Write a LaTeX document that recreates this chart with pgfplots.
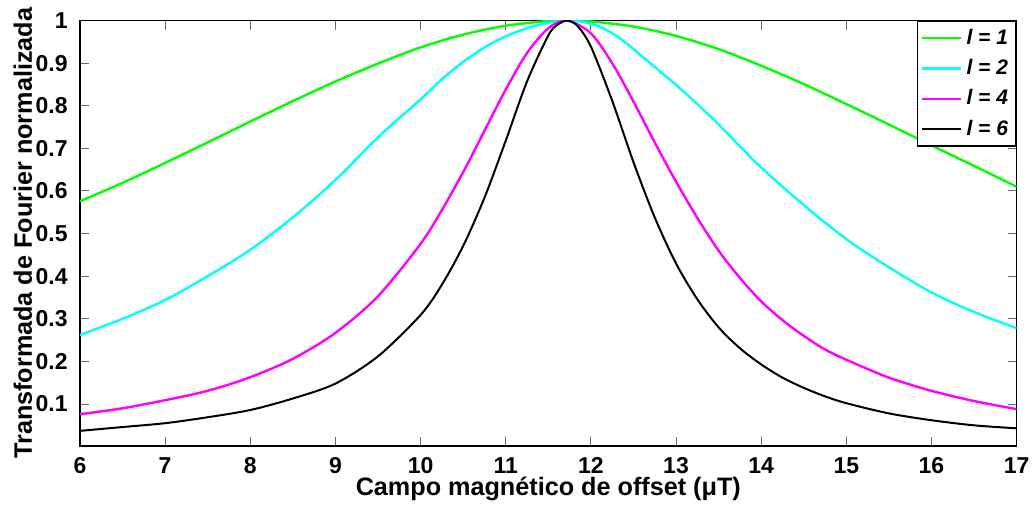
\documentclass[border=0pt]{standalone}
\usepackage{fontspec}
\setmainfont{Liberation Sans}
\usepackage{pgfplots}
\pgfplotsset{compat=1.18}
\begin{document}
\begin{tikzpicture}
\begin{axis}[
  at={(0,0)}, anchor=south west,
  scale only axis, width=468.3pt, height=212.7pt,
  xmin=6, xmax=17, ymin=0.0015, ymax=1,
  xtick={6,7,8,9,10,11,12,13,14,15,16,17},
  ytick={0.1,0.2,0.3,0.4,0.5,0.6,0.7,0.8,0.9,1},
  yticklabels={0.1,0.2,0.3,0.4,0.5,0.6,0.7,0.8,0.9,1},
  tick align=inside, major tick length=4.5pt,
  tick style={color=black!60, line width=0.5pt},
  axis line style={line width=0.7pt},
  /pgf/number format/assume math mode=true,
  ticklabel style={font=\fontsize{11.5}{13}\selectfont\bfseries},
  xticklabel style={anchor=north, inner sep=0pt},
  xticklabel shift=5.6pt,
  yticklabel style={anchor=east, inner sep=0pt, xshift=-6pt},
  xlabel={Campo magnético de offset (μT)},
  ylabel={Transformada de Fourier normalizada},
  label style={font=\fontsize{12.6}{14}\selectfont\bfseries},
  xlabel style={at={(axis description cs:0.5,-0.1175)}, anchor=base, inner sep=0pt},
  ylabel style={at={(axis description cs:-0.0609,0.5)}, anchor=center, inner sep=0pt},
  legend style={at={(1,1)}, anchor=north east, draw=black, line width=0.6pt, fill=white,
    font=\fontsize{10.5}{12}\selectfont\bfseries\itshape, row sep=2pt, inner sep=2pt},
  legend cell align=left,
  legend image code/.code={\draw[#1] (0pt,0pt) -- (19.5pt,0pt);},
]
\addplot[color={rgb,1:red,0;green,1;blue,0}, line width=1.2pt, smooth] coordinates {
(6.0,0.576) (6.5,0.619) (7.0,0.666) (7.5,0.714) (8.0,0.763) (8.5,0.811) (9.0,0.857)
(9.5,0.899) (10.0,0.937) (10.5,0.967) (11.0,0.988) (11.5,0.999) (11.72,1.0)
(12.0,0.998) (12.5,0.986) (13.0,0.964) (13.5,0.933) (14.0,0.894) (14.5,0.851)
(15.0,0.804) (15.5,0.756) (16.0,0.707) (16.5,0.659) (17.0,0.610)};
\addlegendentry{l = 1}
\addplot[color={rgb,1:red,0;green,1;blue,1}, line width=1.2pt, smooth] coordinates {
(6.0,0.262) (6.5,0.300) (7.0,0.344) (7.5,0.400) (8.0,0.462) (8.5,0.538) (9.0,0.626)
(9.5,0.726) (10.0,0.815) (10.25,0.862) (10.5,0.903) (10.75,0.937) (11.0,0.963)
(11.25,0.982) (11.5,0.995) (11.72,1.0) (11.9,0.997) (12.1,0.986) (12.3,0.964)
(12.5,0.933) (12.75,0.891) (13.0,0.849) (13.25,0.804) (13.5,0.756) (13.75,0.705)
(14.0,0.655) (14.5,0.567) (15.0,0.487) (15.5,0.421) (16.0,0.362) (16.5,0.316)
(17.0,0.278)};
\addlegendentry{l = 2}
\addplot[color={rgb,1:red,1;green,0;blue,1}, line width=1.2pt, smooth] coordinates {
(6.0,0.076) (6.5,0.090) (7.0,0.109) (7.5,0.131) (8.0,0.163) (8.5,0.206) (9.0,0.267)
(9.5,0.353) (10.0,0.476) (10.25,0.555) (10.5,0.644) (10.75,0.741) (11.0,0.838)
(11.25,0.924) (11.5,0.982) (11.72,1.0) (12.0,0.970) (12.25,0.900) (12.5,0.810)
(12.75,0.714) (13.0,0.622) (13.25,0.537) (13.5,0.460) (13.75,0.396) (14.0,0.341)
(14.25,0.297) (14.5,0.260) (14.75,0.228) (15.0,0.204) (15.5,0.162) (16.0,0.131)
(16.5,0.107) (17.0,0.088)};
\addlegendentry{l = 4}
\addplot[color=black, line width=1pt, smooth] coordinates {
(6.0,0.037) (6.5,0.046) (7.0,0.055) (7.5,0.069) (8.0,0.086) (8.5,0.113) (9.0,0.148)
(9.5,0.212) (10.0,0.309) (10.25,0.380) (10.5,0.471) (10.75,0.584) (11.0,0.718)
(11.25,0.857) (11.5,0.965) (11.6,0.989) (11.72,1.0) (11.84,0.988) (12.0,0.939)
(12.25,0.812) (12.5,0.668) (12.75,0.538) (13.0,0.430) (13.25,0.346) (13.5,0.280)
(13.75,0.231) (14.0,0.193) (14.25,0.162) (14.5,0.138) (14.75,0.118) (15.0,0.102)
(15.5,0.078) (16.0,0.062) (16.5,0.050) (17.0,0.043)};
\addlegendentry{l = 6}
\end{axis}
\pgfresetboundingbox
\path[use as bounding box] (-40pt,-31pt) rectangle (477.5pt,223pt);
\end{tikzpicture}
\end{document}
